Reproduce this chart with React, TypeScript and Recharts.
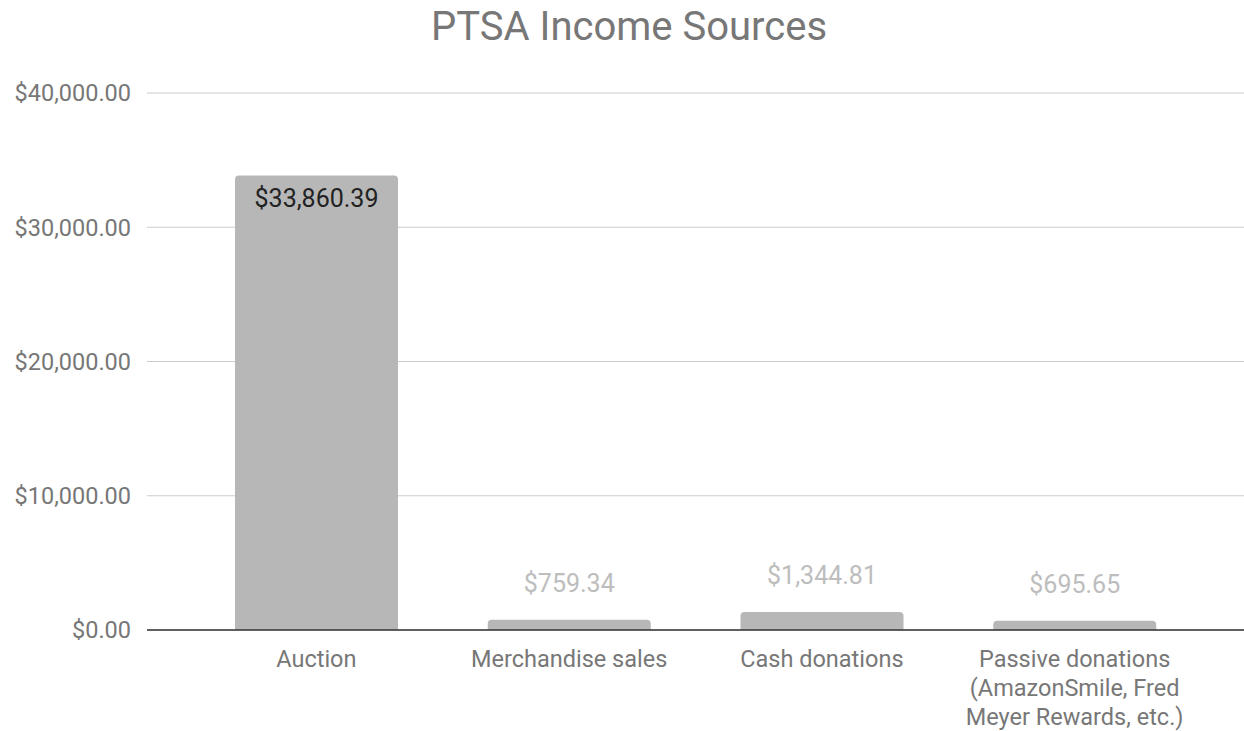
import React from 'react';
import { BarChart, Bar, XAxis, YAxis, CartesianGrid, LabelList } from 'recharts';

const categories = ['Auction', 'Merchandise sales', 'Cash donations', 'Passive donations'];
const tickLines = [
  ['Auction'],
  ['Merchandise sales'],
  ['Cash donations'],
  ['Passive donations', '(AmazonSmile, Fred', 'Meyer Rewards, etc.)'],
];
const income = [33860.39, 759.34, 1344.81, 695.65];
const yTicks = [0, 10000, 20000, 30000, 40000];

const data = categories.map((name, i) => ({ name, value: income[i], lines: tickLines[i] }));

const money = (v: number) =>
  '$' + v.toLocaleString('en-US', { minimumFractionDigits: 2, maximumFractionDigits: 2 });

const FONT = 'Roboto, "Noto Sans", sans-serif';

const XTick = (props: any) => {
  const { x, y, index } = props;
  const lines = tickLines[index] || [];
  return (
    <text x={x} y={y} textAnchor="middle" fill="#777777" fontSize={23.5} fontFamily={FONT}>
      {lines.map((l, i) => (
        <tspan key={i} x={x} dy={i === 0 ? 29 : 29}>
          {l}
        </tspan>
      ))}
    </text>
  );
};

const ValueLabel = (props: any) => {
  const { x, y, width, value } = props;
  const inside = value > 10000;
  return (
    <text
      x={x + width / 2}
      y={inside ? y + 23 : y - 36}
      textAnchor="middle"
      dominantBaseline="central"
      fill={inside ? '#222222' : '#bdbdbd'}
      fontSize={25}
      fontFamily={FONT}
    >
      {money(value)}
    </text>
  );
};

export default function App() {
  return (
    <div style={{ position: 'absolute', left: 0, top: 0, width: 1244, height: 731, background: '#fff' }}>
      <div
        style={{
          position: 'absolute',
          top: 3,
          left: 7,
          width: 1244,
          textAlign: 'center',
          fontFamily: FONT,
          fontSize: 40,
          color: '#777777',
        }}
      >
        PTSA Income Sources
      </div>
      <BarChart width={1244} height={731} data={data} margin={{ top: 93, right: 0, bottom: 0, left: 0 }}>
        <CartesianGrid vertical={false} stroke="#cccccc" />
        <XAxis
          dataKey="name"
          height={101}
          padding={{ left: 43, right: 43 }}
          axisLine={{ stroke: '#333333', strokeWidth: 1.5 }}
          tickLine={false}
          interval={0}
          tick={<XTick />}
        />
        <YAxis
          width={147}
          domain={[0, 40000]}
          ticks={yTicks}
          axisLine={false}
          tickLine={false}
          tickMargin={10}
          tickFormatter={money}
          tick={{ fill: '#777777', fontSize: 23.5, fontFamily: FONT }}
        />
        <Bar dataKey="value" fill="#b7b7b7" barSize={163} radius={[4, 4, 0, 0]} isAnimationActive={false}>
          <LabelList dataKey="value" content={<ValueLabel />} />
        </Bar>
      </BarChart>
    </div>
  );
}
